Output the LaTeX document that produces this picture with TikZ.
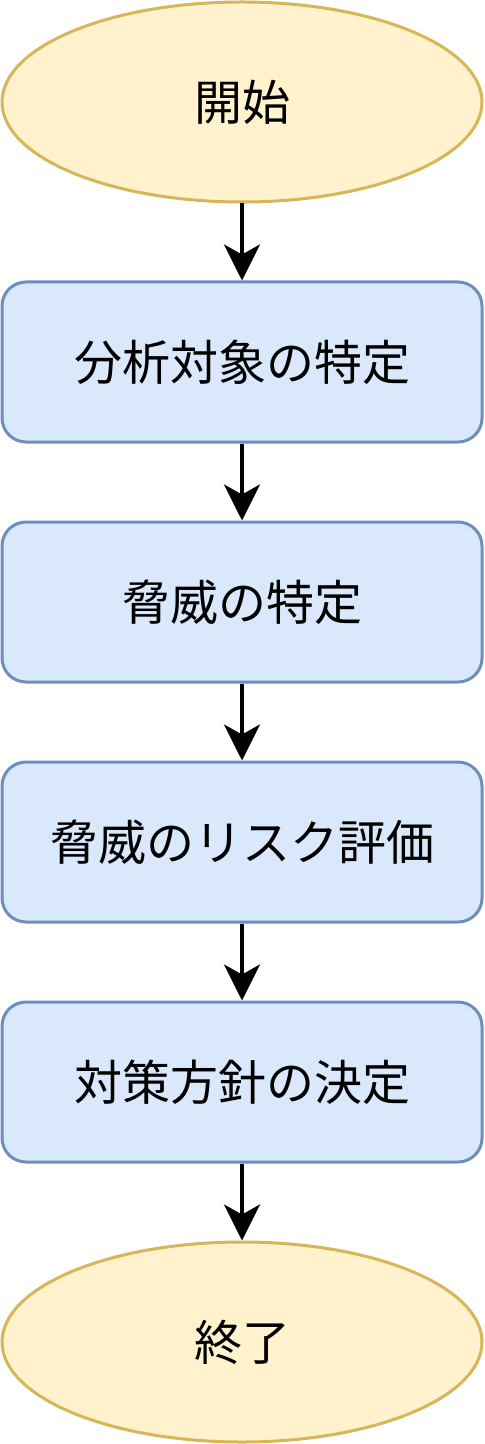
\documentclass[tikz,border=0pt]{standalone}
\usepackage{fontspec}
\setmainfont{Noto Sans CJK JP}
\usetikzlibrary{shapes.geometric,arrows.meta}
\definecolor{termfill}{HTML}{FFF2CC}
\definecolor{termdraw}{HTML}{D6B656}
\definecolor{procfill}{HTML}{DAE8FC}
\definecolor{procdraw}{HTML}{6C8EBF}
\begin{document}
\begin{tikzpicture}[x=0.5pt,y=-0.5pt,
  term/.style={ellipse,draw=termdraw,fill=termfill,line width=1.5pt,minimum width=240pt,minimum height=100pt,inner sep=0pt,font=\fontsize{24}{28}\selectfont},
  proc/.style={rectangle,rounded corners=12pt,draw=procdraw,fill=procfill,line width=1.5pt,minimum width=240pt,minimum height=80pt,inner sep=0pt,font=\fontsize{24}{28}\selectfont},
  flow/.style={line width=2pt,-{Stealth[length=18pt,width=18pt,inset=5pt]}}]
\useasboundingbox (0,0) rectangle (484,1444);
\node[term] (start) at (242,102) {開始};
\node[proc] (p1) at (242,362) {分析対象の特定};
\node[proc] (p2) at (242,602) {脅威の特定};
\node[proc] (p3) at (242,842) {脅威のリスク評価};
\node[proc] (p4) at (242,1082) {対策方針の決定};
\node[term] (end) at (242,1342) {終了};
\draw[flow] (start) -- (p1);
\draw[flow] (p1) -- (p2);
\draw[flow] (p2) -- (p3);
\draw[flow] (p3) -- (p4);
\draw[flow] (p4) -- (end);
\end{tikzpicture}
\end{document}
